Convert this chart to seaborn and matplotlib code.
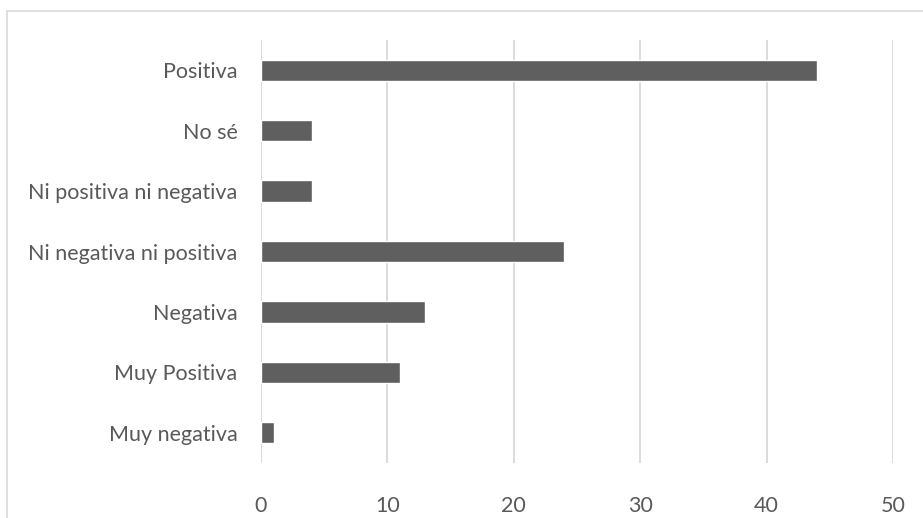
import matplotlib
matplotlib.use("Agg")
import matplotlib.pyplot as plt
import seaborn as sns
import pandas as pd
from matplotlib.lines import Line2D

categories = ["Positiva", "No sé", "Ni positiva ni negativa", "Ni negativa ni positiva",
              "Negativa", "Muy Positiva", "Muy negativa"]
values = [44, 4, 4, 24, 13, 11, 1]
xticks = [0, 10, 20, 30, 40, 50]

df = pd.DataFrame({"cat": categories, "val": values})

sns.set_style("white")
plt.rcParams["font.family"] = ["Lato", "DejaVu Sans"]

fig = plt.figure(figsize=(9.23, 5.18), dpi=100)
ax = fig.add_axes([261/923, 1-463/518, (893-261)/923, (463-40)/518])

sns.barplot(data=df, x="val", y="cat", orient="h", color="#5f5f5f",
            saturation=1, width=0.35, ax=ax, zorder=3)

ax.set_xlim(0, 50)
ax.set_xticks(xticks)
ax.set_xticklabels([str(t) for t in xticks])
ax.set_ylim(6.5, -0.5)
ax.set_xlabel("")
ax.set_ylabel("")
ax.grid(axis="x", color="#d9d9d9", linewidth=1.3, zorder=0)
ax.grid(axis="y", visible=False)
for s in ax.spines.values():
    s.set_visible(False)
ax.tick_params(axis="both", length=0, labelsize=15.5, colors="#595959")
ax.tick_params(axis="y", pad=17)
ax.tick_params(axis="x", pad=24)

# chart border (top and left visible)
fig.add_artist(Line2D([6.5/923, 1.0], [1-11/518, 1-11/518], transform=fig.transFigure,
                      color="#d9d9d9", linewidth=1.2))
fig.add_artist(Line2D([6.5/923, 6.5/923], [1-11/518, 0.0], transform=fig.transFigure,
                      color="#d9d9d9", linewidth=1.2))

fig.savefig("out.png", dpi=100, facecolor="white")
